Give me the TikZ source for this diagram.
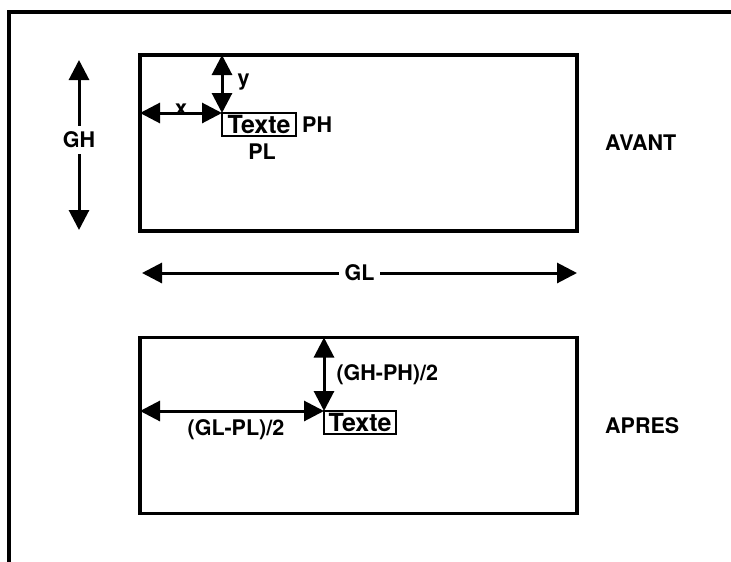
\documentclass[tikz,border=0pt]{standalone}
\usepackage{fontspec}
\setmainfont{TeX Gyre Heros}
\usetikzlibrary{arrows.meta, positioning}
\tikzset{
  bigbox/.style={draw, line width=3.4pt, outer sep=0pt, inner sep=0pt,
                 minimum width=437pt, minimum height=176pt},
  textbox/.style={draw, line width=2.6pt, outer sep=0pt, inner sep=1pt,
                  minimum height=23pt, font=\fontsize{25}{25}\bfseries},
  dim/.style={{Triangle[length=20pt,width=20pt]}-{Triangle[length=20pt,width=20pt]}, line width=3pt},
  lbl/.style={font=\fontsize{21.5}{24}\bfseries, inner sep=2pt},
}

\begin{document}
\begin{tikzpicture}[x=1pt, y=-1pt]
\useasboundingbox (0,0) rectangle (731,562);
% page frame
\draw[line width=3.4pt] (9,562) -- (9,12) -- (731,12);

% before
\node[bigbox] (avant) at (358.5,143) {};
\node[textbox, minimum width=74pt, anchor=north west] (texte1) at (222,113) {Texte};
\node[lbl, right=4pt of texte1] (ph) {PH};
\node[lbl, below=6pt of texte1.south, xshift=3pt] (pl) {PL};
\node[lbl, right=26pt of avant] (avantlbl) {AVANT};
\coordinate (ghtop) at (79,60);
\coordinate (ghbot) at (79,230);
\draw[dim] (ghtop) -- node[lbl, fill=white, inner sep=6pt, yshift=5pt] {GH} (ghbot);
\draw[dim] (avant.west |- texte1.north west) --
  node[lbl, anchor=base, inner sep=0pt, yshift=-2pt] {x} (texte1.north west);
\draw[dim] (texte1.north west |- avant.north) --
  node[lbl, right, inner sep=0pt, xshift=14pt, yshift=2pt] {y} (texte1.north west);
\coordinate (glleft) at (142,273);
\coordinate (glright) at (577,273);
\draw[dim] (glleft) -- node[lbl, fill=white, inner sep=6pt] {GL} (glright);

% after
\node[bigbox] (apres) at (358.5,425.5) {};
\node[textbox, minimum width=72pt, anchor=north west] (texte2) at (324,411) {Texte};
\node[lbl, right=26pt of apres] (apreslbl) {APRES};
\draw[dim] (texte2.north west |- apres.north) --
  node[lbl, right, xshift=9pt] {(GH-PH)/2} (texte2.north west);
\draw[dim] (apres.west |- texte2.north west) --
  node[lbl, below, yshift=-5pt, xshift=4pt] {(GL-PL)/2} (texte2.north west);
\end{tikzpicture}
\end{document}
